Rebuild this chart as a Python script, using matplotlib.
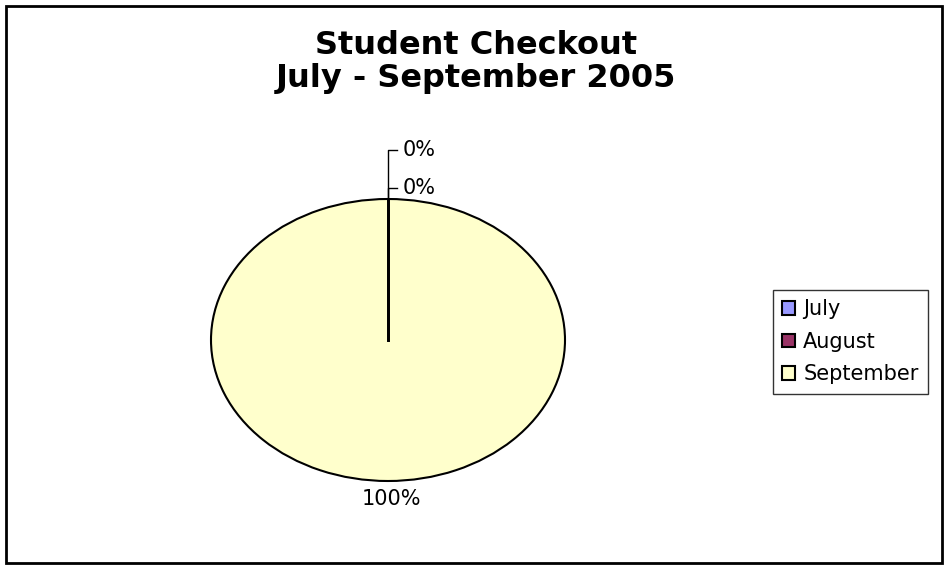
import numpy as np
import matplotlib
matplotlib.use("Agg")
import matplotlib.pyplot as plt
from matplotlib.patches import Rectangle

plt.rcParams['font.family'] = ['DejaVu Sans']

categories = ["July", "August", "September"]
values = [0, 0, 100]
colors = ["#9999FF", "#993366", "#FFFFCC"]
title = "Student Checkout\nJuly - September 2005"

fig = plt.figure(figsize=(9.49, 5.66), dpi=100)
fig.patch.set_facecolor("white")

# outer frame
fig.patches.append(Rectangle((6/949, 3/566), 936/949, 557/566, transform=fig.transFigure,
                             fill=False, edgecolor="black", linewidth=2))

ax = fig.add_axes([211/949, 85/566, 354/949, 282/566])
wedges, _ = ax.pie(values, colors=colors, startangle=90, counterclock=False,
                   wedgeprops=dict(edgecolor="black", linewidth=1.5))
ax.set_aspect('auto')
ax.set_xlim(-1, 1)
ax.set_ylim(-1, 1)
ax.axis('off')

# boundary line of the zero-size wedges
for w, v in zip(wedges, values):
    if v == 0:
        a = np.deg2rad(w.theta1)
        ax.plot([0, np.cos(a)], [0, np.sin(a)], color="black", lw=2, zorder=5)

total = sum(values)
label_heights = {0: 1.348, 1: 1.078}
for i, (w, v) in enumerate(zip(wedges, values)):
    ang = np.deg2rad((w.theta1 + w.theta2) / 2)
    x0, y0 = np.cos(ang), np.sin(ang)
    pct = f"{round(100 * v / total):d}%"
    if i in label_heights:
        ly = label_heights[i]
        ax.plot([x0, x0, x0 + 0.05], [y0, ly, ly], color="black", lw=1, clip_on=False)
        ax.text(x0 + 0.08, ly, pct, ha="left", va="center", fontsize=15, clip_on=False)
    else:
        ax.text(x0 + 0.017, -1.128, pct, ha="center", va="center", fontsize=15, clip_on=False)

fig.text(476/949, 1 - 62/566, title, ha="center", va="center", fontsize=23,
         fontweight="bold", linespacing=1.1)

leg = fig.legend(wedges, categories, loc="upper left", bbox_to_anchor=(773/949, 1 - 290/566),
                 borderaxespad=0, fontsize=15, frameon=True, fancybox=False,
                 handlelength=0.6, handleheight=0.6, handletextpad=0.4,
                 labelspacing=0.6, borderpad=0.45)
leg.get_frame().set_edgecolor("black")
leg.get_frame().set_linewidth(1)

fig.savefig("out.png", dpi=100)
